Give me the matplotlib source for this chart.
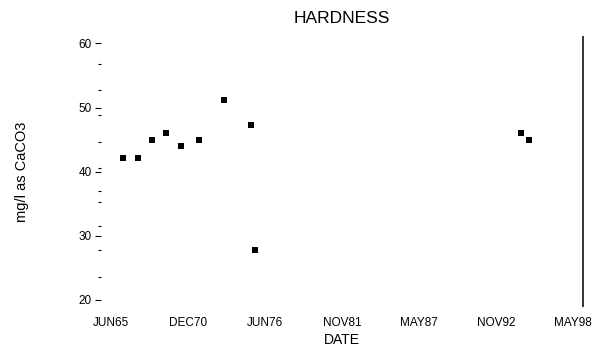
import matplotlib
matplotlib.use("Agg")
import matplotlib.pyplot as plt

plt.rcParams['font.family'] = ['Liberation Sans', 'DejaVu Sans']

# sample dates as decimal years, hardness in mg/l as CaCO3
years = [1966.3, 1967.35, 1968.35, 1969.37, 1970.4, 1971.72,
         1973.51, 1975.44, 1975.72, 1994.7, 1995.25]
hardness = [42.1, 42.1, 45.0, 46.1, 44.0, 45.0,
            51.2, 47.2, 27.8, 46.1, 45.0]

xtick_pos = [1965.417, 1970.917, 1976.417, 1981.917, 1987.417, 1992.917, 1998.417]
xtick_labels = ['JUN65', 'DEC70', 'JUN76', 'NOV81', 'MAY87', 'NOV92', 'MAY98']
ytick_pos = [20, 30, 40, 50, 60]
yminor_pos = [56.8, 52.7, 48.8, 44.7, 40.6, 37.0, 35.2, 31.6, 27.8, 23.6]

fig = plt.figure(figsize=(5.99, 3.54), dpi=100)
ax = fig.add_axes([0.1686, 0.1356, 0.8047, 0.7599])

ax.plot(years, hardness, 's', color='black', ms=4.6, mew=0)

ax.set_xlim(1964.70, 1999.13)
ax.set_ylim(19.05, 61.0)

for side in ['left', 'top', 'bottom']:
    ax.spines[side].set_visible(False)
ax.spines['right'].set_color('#333333')
ax.spines['right'].set_linewidth(1.4)

ax.set_xticks(xtick_pos)
ax.set_xticklabels(xtick_labels)
ax.set_yticks(ytick_pos)
ax.set_yticks(yminor_pos, minor=True)

ax.tick_params(axis='x', length=0, pad=8, labelsize=8.5)
ax.tick_params(axis='y', which='major', length=4.5, width=0.8, pad=2, labelsize=8.5)
ax.tick_params(axis='y', which='minor', length=2.5, width=0.8)
ax.tick_params(axis='y', which='both', right=False)

ax.set_xlabel('DATE', fontsize=10, labelpad=3)
ax.set_ylabel('mg/l as CaCO3', fontsize=10.5, labelpad=36)
ax.set_title('HARDNESS', fontsize=12.5, pad=10)

fig.savefig('out.png', dpi=100)
